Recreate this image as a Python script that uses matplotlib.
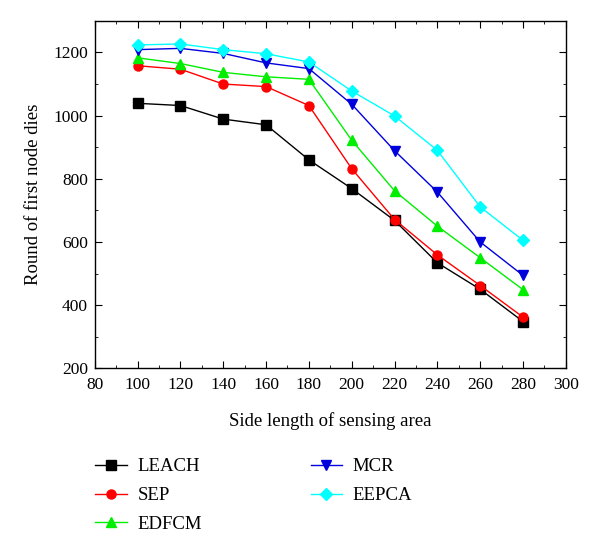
import matplotlib
matplotlib.use("Agg")
import matplotlib.pyplot as plt
from matplotlib.ticker import MultipleLocator

plt.rcParams['font.family'] = ['Liberation Serif', 'DejaVu Serif']

x = [100, 120, 140, 160, 180, 200, 220, 240, 260, 280]
leach = [1039, 1032, 989, 971, 860, 769, 668, 534, 450, 348]
sep = [1158, 1147, 1100, 1092, 1032, 832, 671, 559, 462, 362]
edfcm = [1183, 1165, 1137, 1123, 1115, 922, 762, 650, 550, 449]
mcr = [1209, 1213, 1197, 1167, 1149, 1036, 889, 758, 600, 494]
eepca = [1224, 1227, 1209, 1196, 1170, 1078, 999, 890, 711, 605]

series = [
    ("LEACH", leach, "black", "s"),
    ("SEP", sep, "red", "o"),
    ("EDFCM", edfcm, "#00ee00", "^"),
    ("MCR", mcr, "#0000dd", "v"),
    ("EEPCA", eepca, "cyan", "D"),
]

fig = plt.figure(figsize=(6.0, 5.36), dpi=100)
ax = fig.add_axes([0.158, 0.313, 0.785, 0.648])

for name, vals, col, mk in series:
    ax.plot(x, vals, color=col, marker=mk, markersize=6.5 if mk != "D" else 6,
            linewidth=1.0, label=name)

ax.set_xlim(80, 300)
ax.set_ylim(200, 1300)
ax.xaxis.set_major_locator(MultipleLocator(20))
ax.xaxis.set_minor_locator(MultipleLocator(10))
ax.yaxis.set_major_locator(MultipleLocator(200))
ax.yaxis.set_minor_locator(MultipleLocator(100))
ax.tick_params(which='both', direction='in', top=True, right=True, labelsize=12.5)
ax.tick_params(which='major', length=5)
ax.tick_params(which='minor', length=2.5)
ax.tick_params(axis='x', which='major', pad=6)
ax.tick_params(axis='y', which='major', pad=5)
ax.set_yticks([200, 400, 600, 800, 1000, 1200])
for sp in ax.spines.values():
    sp.set_linewidth(1.0)

ax.set_xlabel("Side length of sensing area", fontsize=13.5, labelpad=14)
ax.set_ylabel("Round of first node dies", fontsize=13.5, labelpad=8)

handles, labels = ax.get_legend_handles_labels()
fig.legend(handles, labels, ncol=2, frameon=False, fontsize=13.5,
           loc='upper left', bbox_to_anchor=(0.146, 0.159),
           columnspacing=5.8, handlelength=1.7, handletextpad=0.55,
           labelspacing=0.62, borderaxespad=0)

fig.savefig("out.png", dpi=100)
